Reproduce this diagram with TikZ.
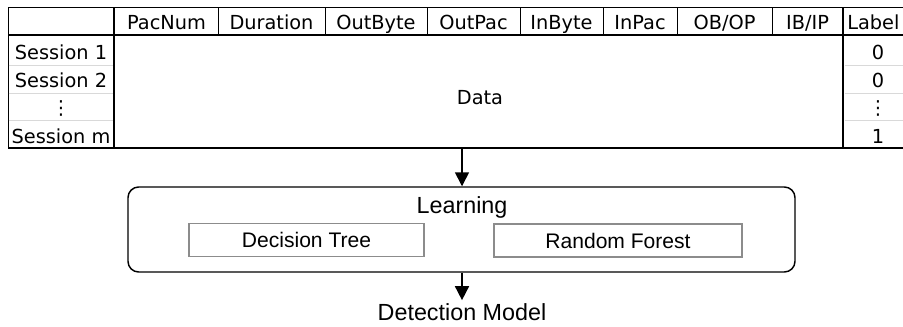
\documentclass[tikz,border=0pt]{standalone}
\usepackage{fontspec}
\setmainfont{Liberation Sans}
\newfontfamily\tablefont{DejaVu Sans}
\usetikzlibrary{positioning,arrows.meta}
\tikzset{
    cell/.style = {
        font = \tablefont\fontsize{14.5}{16}\selectfont,
        inner sep = 0pt,
        text height = 10.5pt,
        text depth = 0pt
    },
    thinrule/.style = {line width = 0.75pt},
    thickrule/.style = {line width = 1.6pt},
    rowrule/.style = {line width = 0.75pt, draw = black!15},
    learnbox/.style = {
        rectangle,
        draw,
        line width = 1.1pt,
        rounded corners = 8pt,
        minimum width = 500.25pt,
        minimum height = 63.75pt
    },
    algbox/.style = {
        rectangle,
        draw = black!45,
        line width = 1pt,
        font = \fontsize{15.8}{18}\selectfont,
        minimum height = 24.75pt
    },
    flow/.style = {
        line width = 1.2pt,
        -{Triangle[length = 10.5pt, width = 10.5pt]}
    }
}

\begin{document}
\begin{tikzpicture}[x = 0.75pt, y = -0.75pt]
    \useasboundingbox (0,0) rectangle (903,326);

    % table rules
    \draw[thinrule] (903,7.5) -- (8,7.5) -- (8,148);
    \foreach \xs in {218,325,427,520,603,677,772}
        \draw[thinrule] (\xs,7.5) -- (\xs,35);
    \foreach \ys in {65,93,120} {
        \draw[rowrule] (8.5,\ys) -- (113,\ys);
        \draw[rowrule] (844.5,\ys) -- (903,\ys);
    }
    \draw[thickrule] (8,35) -- (903,35);
    \draw[thickrule] (8,148) -- (903,148);
    \draw[thickrule] (114,7.5) -- (114,148);
    \draw[thickrule] (843,7.5) -- (843,148);

    % header
    \node[cell] (hPacNum) at (166.5,22) {PacNum};
    \node[cell] (hDuration) at (271.5,22) {Duration};
    \node[cell] (hOutByte) at (376,22) {OutByte};
    \node[cell] (hOutPac) at (473.5,22) {OutPac};
    \node[cell] (hInByte) at (561.5,22) {InByte};
    \node[cell] (hInPac) at (640,22) {InPac};
    \node[cell] (hOBOP) at (724.5,22) {OB/OP};
    \node[cell] (hIBIP) at (807.5,22) {IB/IP};
    \node[cell, anchor = west] (hLabel) at (847,22) {Label};

    % sessions and labels
    \node[cell] (s1) at (61,52) {Session 1};
    \node[cell] (s2) at (61,80) {Session 2};
    \node[cell] (sdots) at (61,107) {⋮};
    \node[cell] (sm) at (61,136) {Session m};
    \node[cell] (l1) at (878,52) {0};
    \node[cell] (l2) at (878,80) {0};
    \node[cell] (ldots) at (878,107) {⋮};
    \node[cell] (lm) at (878,136) {1};
    \node[cell] (data) at (480,97) {Data};
    \coordinate (tabBottom) at (462,148);

    % learning stage
    \node[learnbox] (learn) at (461.5,229.5) {};
    \node[font = \fontsize{17.5}{20}\selectfont, inner sep = 0pt] (learnTitle) at (462,207) {Learning};
    \node[algbox, minimum width = 176.25pt] (tree) at (306.5,240) {Decision Tree};
    \node[algbox, minimum width = 186pt] (forest) at (618,240.5) {Random Forest};

    % output
    \node[font = \fontsize{17.5}{20}\selectfont, anchor = base, inner sep = 2pt] (model) at (462,320) {Detection Model};

    \draw[flow] (tabBottom) -- (learn.north -| tabBottom);
    \draw[flow] (learn.south -| model) -- (model.north);
\end{tikzpicture}
\end{document}
